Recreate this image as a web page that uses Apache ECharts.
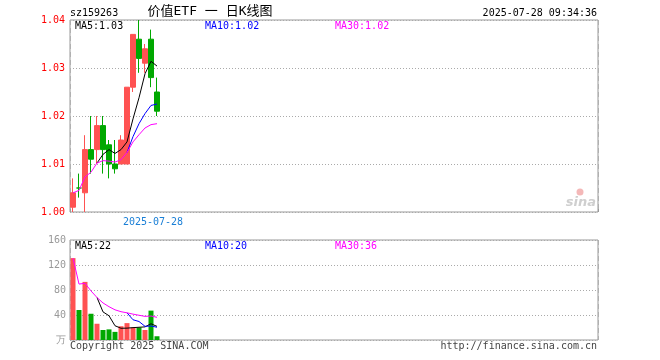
<!DOCTYPE html>
<html>
<head>
<meta charset="utf-8">
<script src="https://cdn.jsdelivr.net/npm/echarts@6/dist/echarts.min.js"></script>
<style>html,body{margin:0;padding:0;background:#fff}#c{width:660px;height:360px}</style>
</head>
<body>
<div id="c"></div>
<script>
// ---- data ----
const stockCode = 'sz159263';
const chartTitle = '价值ETF 一 日K线图';
const timestamp = '2025-07-28 09:34:36';
const dates = ['2025-07-08','2025-07-09','2025-07-10','2025-07-11','2025-07-14','2025-07-15','2025-07-16','2025-07-17','2025-07-18','2025-07-21','2025-07-22','2025-07-23','2025-07-24','2025-07-25','2025-07-28'];
const opens  = [1.001,1.005,1.004,1.013,1.013,1.018,1.014,1.010,1.010,1.010,1.026,1.036,1.031,1.036,1.025];
const closes = [1.004,1.005,1.013,1.011,1.018,1.013,1.010,1.009,1.015,1.026,1.037,1.032,1.034,1.028,1.021];
const lows   = [1.000,1.003,1.000,1.008,1.010,1.008,1.007,1.008,1.010,1.010,1.025,1.029,1.029,1.026,1.020];
const highs  = [1.007,1.008,1.016,1.020,1.020,1.020,1.015,1.015,1.016,1.026,1.037,1.040,1.035,1.038,1.028];
const ma5  = ['-','-','-','-',1.0102,1.0120,1.0130,1.0122,1.0130,1.0146,1.0194,1.0238,1.0288,1.0314,1.0304];
const ma10 = ['-','-','-','-','-','-','-','-','-',1.0124,1.0157,1.0184,1.0205,1.0222,1.0225];
const ma30 = [1.0040,1.0045,1.0073,1.0083,1.0102,1.0107,1.0106,1.0104,1.0109,1.0124,1.0146,1.0161,1.0175,1.0182,1.0184];
const volumes = [131,48,93,42,26,16,17,13,22,27,20,20,16,47,6];
const volMa5  = ['-','-','-','-',68,45,38.8,22.8,18.8,19,19.8,20.4,21,26,21.8];
const volMa10 = ['-','-','-','-','-','-','-','-','-',43.5,32.4,29.6,21.9,22.4,20.4];
const volMa30 = [131,89.5,90.7,78.5,68,59.3,53.3,48.3,45.3,43.5,41.4,39.6,37.8,38.4,36.3];
const priceTicks = [1.00,1.01,1.02,1.03,1.04];
const volTicks = [0,40,80,120,160];
const volUnit = '万';
const markedIndex = 14;     // date marked with the dashed line and label
const SLOTS = 88;           // category slots visible on the axis

// ---- styles ----
const UP = '#ff5252', DOWN = '#00a800';
const MONO = 'DejaVu Sans Mono, Liberation Mono, monospace';
const GRID_L = 70, GRID_R = 62;

const cats = dates.concat(Array.from({length: SLOTS - dates.length}, (_, i) => 'slot' + i));
const candleData = dates.map((d, i) => [opens[i], closes[i], lows[i], highs[i]]);
const volData = volumes.map((v, i) => ({
  value: v,
  itemStyle: {color: closes[i] > opens[i] ? UP : DOWN}
}));
const last = a => a[a.length - 1];
const onlyMarked = (idx) => idx === markedIndex;

const xBase = (gi, showLabel) => ({
  type: 'category', gridIndex: gi, data: cats, boundaryGap: true,
  axisLine: {show: false},
  axisTick: {show: showLabel, inside: true, length: 3, interval: onlyMarked, lineStyle: {color: '#999'}},
  axisLabel: {show: showLabel, interval: onlyMarked, color: '#1a7fd6', fontFamily: MONO, fontSize: 10,
              margin: 5, padding: [0, 8, 0, 0], formatter: v => v},
  splitLine: {show: true, interval: onlyMarked, lineStyle: {color: '#b0b0b0', type: [5, 3], width: 1}}
});

const option = {
  animation: false,
  backgroundColor: '#fff',
  grid: [
    {left: GRID_L, right: GRID_R, top: 20, height: 192, show: true, borderColor: '#999', borderWidth: 1},
    {left: GRID_L, right: GRID_R, top: 240, height: 100, show: true, borderColor: '#999', borderWidth: 1}
  ],
  xAxis: [xBase(0, true), xBase(1, false)],
  yAxis: [
    {type: 'value', gridIndex: 0, min: priceTicks[0], max: last(priceTicks), interval: 0.01,
     axisLine: {show: false}, axisTick: {show: false},
     axisLabel: {color: '#f00', fontFamily: MONO, fontSize: 10, margin: 5, formatter: v => v.toFixed(2)},
     splitLine: {lineStyle: {color: '#aaa', type: [1, 2]}}},
    {type: 'value', gridIndex: 1, min: volTicks[0], max: last(volTicks), interval: 40,
     axisLine: {show: false}, axisTick: {show: false},
     axisLabel: {color: '#999', fontFamily: MONO, fontSize: 10, margin: 4,
                 formatter: v => v === 0 ? volUnit : String(v)},
     splitLine: {lineStyle: {color: '#aaa', type: [1, 2]}}}
  ],
  series: [
    {type: 'candlestick', xAxisIndex: 0, yAxisIndex: 0, data: candleData, barWidth: 5,
     itemStyle: {color: UP, color0: DOWN, borderColor: UP, borderColor0: DOWN, borderColorDoji: DOWN, borderWidth: 1}},
    {type: 'line', xAxisIndex: 0, yAxisIndex: 0, data: ma5, showSymbol: false, lineStyle: {color: '#000', width: 1}},
    {type: 'line', xAxisIndex: 0, yAxisIndex: 0, data: ma10, showSymbol: false, lineStyle: {color: '#0000ff', width: 1}},
    {type: 'line', xAxisIndex: 0, yAxisIndex: 0, data: ma30, showSymbol: false, lineStyle: {color: '#ff00ff', width: 1}},
    {type: 'bar', xAxisIndex: 1, yAxisIndex: 1, data: volData, barWidth: 5},
    {type: 'line', xAxisIndex: 1, yAxisIndex: 1, data: volMa5, showSymbol: false, lineStyle: {color: '#000', width: 1}},
    {type: 'line', xAxisIndex: 1, yAxisIndex: 1, data: volMa10, showSymbol: false, lineStyle: {color: '#0000ff', width: 1}},
    {type: 'line', xAxisIndex: 1, yAxisIndex: 1, data: volMa30, showSymbol: false, lineStyle: {color: '#ff00ff', width: 1}}
  ],
  graphic: [
    {type: 'text', left: 70, top: 8, style: {text: stockCode, font: '10px ' + MONO, fill: '#000'}},
    {type: 'text', x: 210, y: 12, style: {text: chartTitle, font: '13px DejaVu Sans Mono, Noto Sans CJK SC', fill: '#000', align: 'center', verticalAlign: 'middle'}},
    {type: 'text', x: 597, y: 13, style: {text: timestamp, font: '10px ' + MONO, fill: '#000', align: 'right', verticalAlign: 'middle'}},
    {type: 'text', x: 75, y: 26, style: {text: 'MA5:' + last(ma5).toFixed(2), font: '10px ' + MONO, fill: '#000', verticalAlign: 'middle'}},
    {type: 'text', x: 205, y: 26, style: {text: 'MA10:' + last(ma10).toFixed(2), font: '10px ' + MONO, fill: '#0000ff', verticalAlign: 'middle'}},
    {type: 'text', x: 335, y: 26, style: {text: 'MA30:' + last(ma30).toFixed(2), font: '10px ' + MONO, fill: '#ff00ff', verticalAlign: 'middle'}},
    {type: 'text', x: 75, y: 246, style: {text: 'MA5:' + Math.round(last(volMa5)), font: '10px ' + MONO, fill: '#000', verticalAlign: 'middle'}},
    {type: 'text', x: 205, y: 246, style: {text: 'MA10:' + Math.round(last(volMa10)), font: '10px ' + MONO, fill: '#0000ff', verticalAlign: 'middle'}},
    {type: 'text', x: 335, y: 246, style: {text: 'MA30:' + Math.round(last(volMa30)), font: '10px ' + MONO, fill: '#ff00ff', verticalAlign: 'middle'}},
    {type: 'text', x: 70, y: 346, style: {text: 'Copyright 2025 SINA.COM', font: '10px ' + MONO, fill: '#444', verticalAlign: 'middle'}},
    {type: 'text', x: 597, y: 346, style: {text: 'http://finance.sina.com.cn', font: '10px ' + MONO, fill: '#444', align: 'right', verticalAlign: 'middle'}},
    {type: 'circle', shape: {cx: 580, cy: 192, r: 3.5}, style: {fill: '#f4b8b8'}, silent: true},
    {type: 'text', x: 596, y: 203, style: {text: 'sina', font: 'italic bold 13px DejaVu Sans', fill: '#cfcfcf', align: 'right', verticalAlign: 'middle'}, silent: true}
  ]
};

const chart = echarts.init(document.getElementById('c'), null, {renderer: 'canvas'});
chart.setOption(option);
</script>
</body>
</html>
